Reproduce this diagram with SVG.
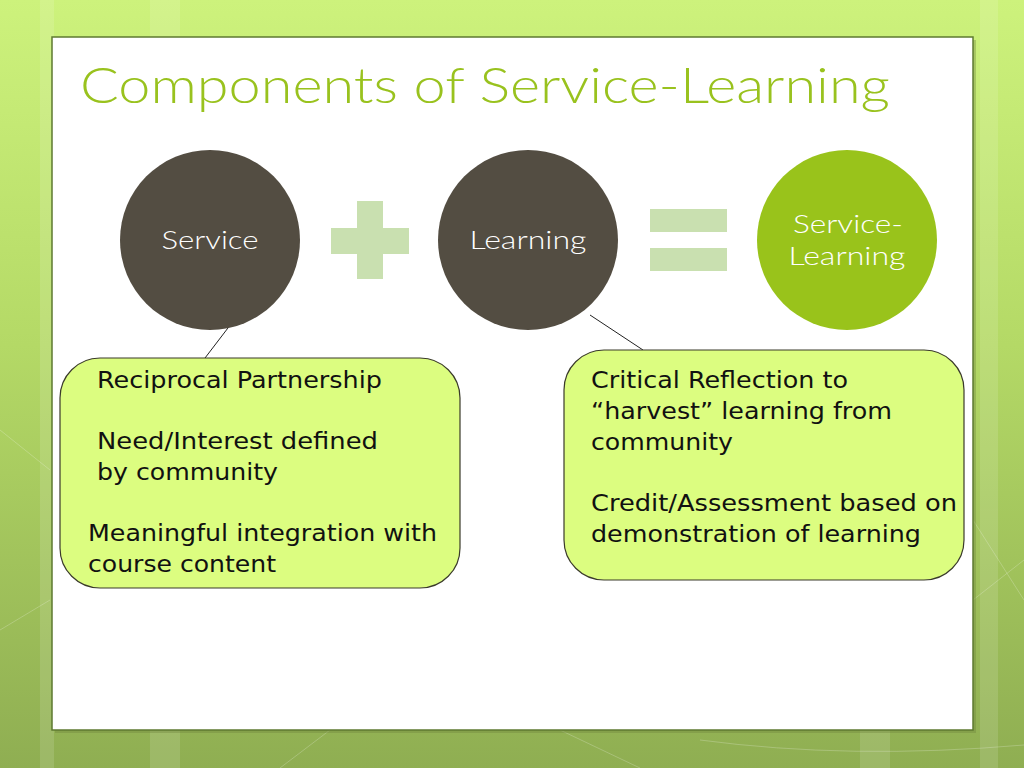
<svg xmlns="http://www.w3.org/2000/svg" width="1024" height="768" viewBox="0 0 1024 768">
<defs>
<linearGradient id="bg" x1="0" y1="0" x2="0" y2="1">
<stop offset="0" stop-color="#cdf27c"/>
<stop offset="0.45" stop-color="#b4d966"/>
<stop offset="1" stop-color="#8fae52"/>
</linearGradient>
<style>
.box{fill:#dcfd80;stroke:#3a3a2a;stroke-width:1.2}
.dark{fill:#534d42}
.sym{fill:#c9e0b0}
.ct{font-family:Lato,"Open Sans","Liberation Sans",sans-serif;font-weight:300;font-size:25px;fill:#ffffff;text-anchor:middle}
.bt{font-family:"DejaVu Sans","Liberation Sans",sans-serif;font-size:23px;fill:#111111}
.conn{stroke:#222222;stroke-width:1;fill:none}
</style>
</defs>
<rect width="1024" height="768" fill="url(#bg)"/>
<g opacity="0.12" fill="#ffffff">
<rect x="40" y="0" width="14" height="768"/>
<rect x="150" y="0" width="30" height="768"/>
<rect x="980" y="0" width="18" height="768"/>
<rect x="860" y="730" width="30" height="38"/>
</g>
<g opacity="0.22" stroke="#ffffff" fill="none" stroke-width="1">
<path d="M0 430 L50 470 M0 630 L50 600 M280 768 L330 730 M560 730 L640 768 M700 740 Q850 760 1024 745 M973 600 L1024 560 M973 520 L1024 600"/>
</g>
<rect x="55" y="40" width="921" height="693" fill="#6b7f3a" opacity="0.35"/>
<rect id="panel" x="52" y="37" width="921" height="693" fill="#ffffff" stroke="#5e7a30" stroke-width="1.5"/>
<text id="title" x="80" y="103" font-family="Lato,'Open Sans','Liberation Sans',sans-serif" font-weight="300" font-size="50" fill="#99c21e" textLength="810" lengthAdjust="spacingAndGlyphs">Components of Service-Learning</text>
<g id="connectors">
<line class="conn" x1="231" y1="324" x2="205" y2="358"/>
<line class="conn" x1="590" y1="315" x2="643" y2="350"/>
</g>
<g id="service">
<circle class="dark" cx="210" cy="240" r="90"/>
<text class="ct" x="210" y="249" textLength="97" lengthAdjust="spacingAndGlyphs">Service</text>
</g>
<g id="plus">
<rect class="sym" x="357" y="201" width="26" height="78"/>
<rect class="sym" x="331" y="228" width="78" height="26"/>
</g>
<g id="learning">
<circle class="dark" cx="528" cy="240" r="90"/>
<text class="ct" x="528" y="249" textLength="117" lengthAdjust="spacingAndGlyphs">Learning</text>
</g>
<g id="equals">
<rect class="sym" x="650" y="209" width="77" height="23"/>
<rect class="sym" x="650" y="248" width="77" height="23"/>
</g>
<g id="service-learning">
<circle cx="847" cy="240" r="90" fill="#99c31b"/>
<text class="ct" x="848" y="233" textLength="110" lengthAdjust="spacingAndGlyphs">Service-</text>
<text class="ct" x="847" y="265" textLength="117" lengthAdjust="spacingAndGlyphs">Learning</text>
</g>
<g id="box-service">
<rect class="box" x="60" y="358" width="400" height="230" rx="40" ry="40"/>
<text class="bt" x="97" y="388" textLength="285" lengthAdjust="spacingAndGlyphs">Reciprocal Partnership</text>
<text class="bt" x="97" y="449" textLength="281" lengthAdjust="spacingAndGlyphs">Need/Interest defined</text>
<text class="bt" x="97" y="480" textLength="181" lengthAdjust="spacingAndGlyphs">by community</text>
<text class="bt" x="88" y="541" textLength="349" lengthAdjust="spacingAndGlyphs">Meaningful integration with</text>
<text class="bt" x="88" y="572" textLength="188" lengthAdjust="spacingAndGlyphs">course content</text>
</g>
<g id="box-learning">
<rect class="box" x="564" y="350" width="400" height="230" rx="40" ry="40"/>
<text class="bt" x="591" y="388" textLength="257" lengthAdjust="spacingAndGlyphs">Critical Reflection to</text>
<text class="bt" x="591" y="419" textLength="301" lengthAdjust="spacingAndGlyphs">“harvest” learning from</text>
<text class="bt" x="591" y="450" textLength="142" lengthAdjust="spacingAndGlyphs">community</text>
<text class="bt" x="591" y="511" textLength="366" lengthAdjust="spacingAndGlyphs">Credit/Assessment based on</text>
<text class="bt" x="591" y="542" textLength="330" lengthAdjust="spacingAndGlyphs">demonstration of learning</text>
</g>
</svg>
